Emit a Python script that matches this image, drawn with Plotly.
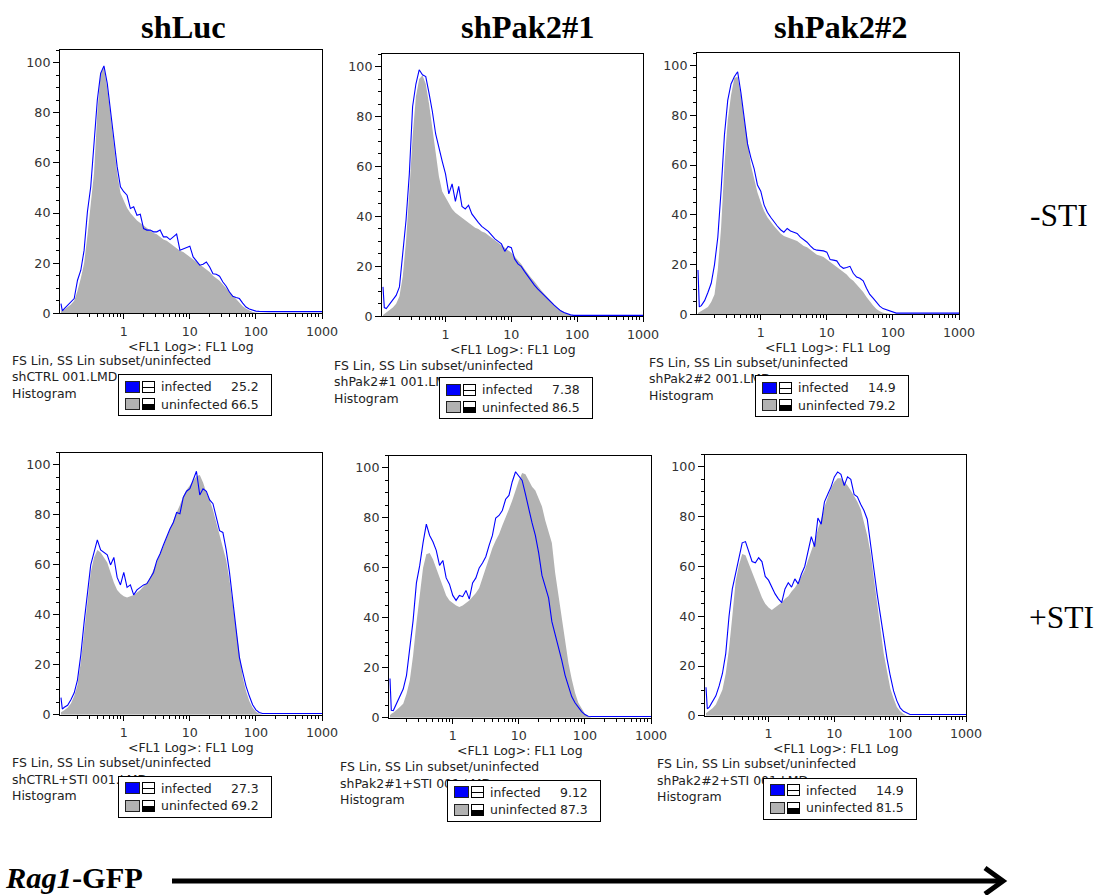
import numpy as np
import plotly.graph_objects as go

# Reference geometry is measured on a 1099x895 picture.  The captured page
# region is slightly larger (about 1115x903), so the figure is sized to it and
# every position is given as a fraction of the picture.
REF_W, REF_H = 1099, 895
FIG_W, FIG_H = 1115, 903
KX, KY = FIG_W / REF_W, FIG_H / REF_H

# ---------------- data ----------------
COLUMN_TITLES = ["shLuc", "shPak2#1", "shPak2#2"]
ROW_LABELS = ["-STI", "+STI"]
FILE_NAMES = ["shCTRL 001.LMD", "shPak2#1 001.LMD", "shPak2#2 001.LMD",
              "shCTRL+STI 001.LMD", "shPak2#1+STI 001.LMD", "shPak2#2+STI 001.LMD"]
GATE_TEXT = "FS Lin, SS Lin subset/uninfected"
INFECTED_PCT = ["25.2", "7.38", "14.9", "27.3", "9.12", "14.9"]
UNINFECTED_PCT = ["66.5", "86.5", "79.2", "69.2", "87.3", "81.5"]
X_TICK_LABELS = ["1", "10", "100", "1000"]

# log10(FL1) bin positions
LOGX = [-0.95, -0.93,
        -0.90, -0.85, -0.80, -0.75, -0.70, -0.65, -0.60, -0.55, -0.50,
        -0.45, -0.40, -0.35, -0.30, -0.25, -0.20, -0.15, -0.10, -0.05,
        0.00, 0.05, 0.10, 0.15, 0.20, 0.25, 0.30, 0.35, 0.40, 0.45,
        0.50, 0.55, 0.60, 0.65, 0.70, 0.75, 0.80, 0.85, 0.90, 0.95,
        1.00, 1.05, 1.10, 1.15, 1.20, 1.25, 1.30, 1.35, 1.40, 1.45,
        1.50, 1.55, 1.60, 1.65, 1.70, 1.75, 1.80, 1.85, 1.90, 1.95,
        2.00, 2.05, 2.10, 2.15, 2.20, 2.50, 3.00]

# shLuc -STI
P1_INF = [3.9, 1.0,
          1.9, 3.2, 4.5, 5.9, 13.2, 17.2, 25.2, 40.5, 50.5, 66.4, 85.1, 95.7, 98.7, 91.7, 81.1, 69.1, 58.5, 50.5,
          48.5, 47.1, 41.8, 42.5, 39.1, 39.5, 33.8, 33.2, 33.2, 32.5, 32.5, 33.2, 30.5, 30.5, 29.4, 30.5, 31.6, 25.2, 25.8, 26.5,
          26.8, 22.5, 20.9, 19.2, 19.6, 20.5, 18.5, 15.8, 15.6, 14.8, 12.5, 10.8, 8.5, 6.8, 6.3, 5.9, 4.1, 2.5, 1.7, 1.2,
          0.9, 0.8, 0.7, 0.7, 0.7, 0.7, 0.7]
P1_UNINF = [0.8, 1.0,
            1.5, 2.5, 3.5, 5.0, 9.0, 14.0, 20.0, 31.0, 44.0, 56.0, 80.0, 96.0, 98.0, 90.0, 79.0, 67.0, 56.0, 48.0,
            45.0, 42.0, 40.0, 38.5, 37.0, 36.0, 35.0, 34.0, 33.0, 32.0, 31.5, 30.5, 29.5, 29.0, 28.0, 27.0, 26.0, 25.0, 24.5, 23.5,
            22.5, 21.5, 20.5, 19.5, 18.5, 17.5, 16.5, 15.0, 14.0, 13.0, 11.5, 10.0, 8.5, 7.0, 5.5, 4.0, 2.8, 1.8, 1.0, 0.5,
            0.2, 0, 0, 0, 0, 0, 0]
# shPak2#1 -STI
P2_INF = [11.8, 3.5,
          3.1, 4.8, 6.4, 8.4, 11.8, 25.0, 38.5, 57.0, 84.0, 93.0, 98.7, 96.7, 96.0, 89.3, 82.0, 73.0, 67.0, 62.0,
          57.0, 49.0, 53.0, 46.0, 52.0, 44.0, 43.0, 44.5, 41.0, 39.0, 37.5, 36.0, 35.0, 34.0, 32.5, 31.0, 30.0, 29.0, 26.0, 28.0,
          27.5, 23.0, 21.0, 20.0, 18.0, 16.0, 14.0, 12.5, 11.0, 9.8, 8.5, 7.0, 5.8, 4.5, 3.2, 2.2, 1.5, 1.0, 0.6, 0.4,
          0.4, 0.4, 0.4, 0.4, 0.4, 0.4, 0.4]
P2_UNINF = [0.5, 1.0,
            1.5, 2.5, 3.5, 5.0, 8.0, 16.0, 30.0, 50.0, 72.0, 88.0, 95.0, 96.5, 93.0, 85.0, 76.0, 66.0, 56.0, 50.0,
            47.5, 45.0, 43.0, 41.5, 40.5, 39.5, 38.5, 37.5, 36.5, 35.5, 35.0, 34.0, 33.5, 32.5, 31.5, 30.5, 29.5, 28.5, 27.5, 26.5,
            25.5, 24.0, 22.5, 21.0, 19.0, 17.0, 15.5, 14.0, 12.0, 10.5, 9.0, 7.5, 6.0, 4.5, 3.3, 2.4, 1.5, 0.9, 0.4, 0.2,
            0, 0, 0, 0, 0, 0, 0]
# shPak2#2 -STI
P3_INF = [17.8, 3.0,
          3.5, 5.5, 8.8, 12.5, 20.0, 31.0, 50.0, 72.0, 86.0, 92.6, 95.5, 97.5, 89.0, 78.0, 68.5, 63.0, 58.5, 52.0,
          49.5, 44.0, 41.0, 39.0, 37.0, 35.5, 34.0, 33.0, 34.5, 33.5, 33.0, 32.5, 31.0, 30.0, 29.0, 27.5, 26.3, 25.8, 25.8, 25.5,
          25.0, 22.0, 21.8, 21.5, 19.5, 18.5, 18.8, 19.3, 16.5, 15.0, 14.5, 13.5, 10.5, 8.0, 6.5, 4.8, 3.3, 2.3, 1.8, 1.4,
          0.9, 0.5, 0.5, 0.5, 0.5, 0.5, 0.5]
P3_UNINF = [0.5, 0.8,
            1.2, 2.0, 3.0, 5.0, 8.0, 18.0, 35.0, 60.0, 78.0, 88.0, 95.0, 95.5, 88.0, 78.0, 70.0, 60.0, 54.0, 49.0,
            45.0, 41.5, 39.0, 37.0, 35.5, 34.0, 32.5, 31.5, 31.0, 30.5, 30.0, 29.5, 28.5, 27.5, 27.0, 26.0, 25.0, 24.0, 23.5, 23.0,
            22.0, 21.0, 20.0, 19.0, 18.0, 17.0, 16.0, 14.5, 13.5, 12.0, 10.5, 9.0, 7.0, 5.2, 3.6, 2.2, 1.2, 0.6, 0.3, 0.1,
            0, 0, 0, 0, 0, 0, 0]
# shLuc +STI
P4_INF = [6.9, 2.3,
          3.0, 3.8, 6.0, 8.8, 14.0, 24.0, 37.0, 48.0, 60.0, 65.0, 70.0, 66.0, 65.0, 64.0, 60.0, 63.0, 55.0, 52.0,
          57.0, 51.0, 52.0, 48.0, 50.0, 51.0, 52.0, 52.5, 55.0, 57.0, 61.7, 64.5, 68.0, 71.5, 74.5, 77.0, 81.0, 80.5, 87.0, 89.5,
          90.5, 94.0, 97.5, 88.0, 90.5, 89.5, 86.0, 84.5, 79.0, 73.7, 73.0, 66.0, 57.0, 46.0, 33.0, 23.0, 17.0, 11.5, 7.5, 4.0,
          2.0, 0.9, 0.5, 0.5, 0.5, 0.5, 0.5]
P4_UNINF = [1.0, 1.2,
            1.8, 2.8, 4.5, 7.5, 12.0, 21.0, 33.0, 45.0, 57.0, 63.0, 66.0, 65.0, 63.0, 61.0, 57.0, 53.0, 50.0, 48.5,
            47.5, 47.0, 47.5, 48.0, 49.0, 50.0, 51.5, 53.0, 55.0, 58.0, 61.0, 64.0, 67.5, 71.0, 74.5, 78.0, 81.0, 84.0, 87.5, 90.0,
            92.0, 94.0, 95.5, 96.0, 93.0, 89.0, 86.0, 82.0, 77.0, 72.0, 68.0, 62.0, 54.0, 44.0, 33.0, 23.0, 15.0, 9.5, 5.5, 2.8,
            1.2, 0.4, 0, 0, 0, 0, 0]
# shPak2#1 +STI
P5_INF = [15.7, 3.0,
          2.9, 5.6, 8.2, 11.5, 17.0, 27.0, 39.0, 54.0, 61.0, 70.0, 77.5, 73.0, 70.5, 67.0, 61.0, 63.0, 56.0, 53.5,
          49.0, 47.0, 49.0, 48.5, 51.0, 47.5, 54.0, 56.0, 60.0, 62.0, 64.5, 69.0, 73.0, 80.0, 81.0, 83.0, 87.5, 89.0, 94.5, 98.5,
          96.5, 95.0, 89.5, 83.0, 78.0, 73.0, 66.0, 57.0, 52.0, 48.0, 38.5, 33.5, 28.5, 23.0, 17.0, 12.5, 8.5, 6.0, 4.3, 2.5,
          1.3, 0.6, 0.5, 0.5, 0.5, 0.5, 0.5]
P5_UNINF = [1.0, 1.6,
            2.0, 3.0, 4.3, 5.6, 9.5, 15.0, 25.0, 38.0, 50.0, 60.0, 65.5, 66.0, 63.5, 60.0, 56.0, 52.5, 49.0, 47.0,
            46.0, 45.0, 44.4, 45.0, 46.0, 47.0, 48.5, 50.0, 52.0, 56.0, 60.0, 64.0, 68.0, 71.0, 73.5, 77.0, 80.0, 83.5, 87.0, 91.5,
            95.0, 98.0, 97.5, 95.0, 92.5, 91.0, 88.0, 84.6, 79.0, 74.0, 70.0, 58.0, 49.0, 38.0, 29.0, 22.0, 15.5, 10.0, 6.0, 3.5,
            1.6, 0.6, 0, 0, 0, 0, 0]
# shPak2#2 +STI
P6_INF = [11.5, 2.8,
          3.5, 5.5, 8.0, 12.0, 17.0, 25.0, 40.0, 51.0, 57.0, 64.0, 69.5, 70.0, 66.0, 62.0, 61.5, 63.5, 62.0, 56.0,
          54.5, 51.5, 49.0, 47.0, 45.5, 51.0, 53.5, 51.7, 55.0, 53.0, 57.0, 60.0, 66.0, 72.0, 68.0, 79.5, 77.0, 86.0, 89.0, 92.0,
          96.0, 98.0, 97.0, 92.5, 96.0, 95.0, 89.0, 88.0, 85.0, 82.5, 79.0, 70.0, 59.0, 49.0, 40.0, 31.0, 23.0, 16.0, 10.0, 6.0,
          3.2, 1.8, 1.0, 0.5, 0.5, 0.5, 0.5]
P6_UNINF = [1.0, 1.5,
            2.0, 3.0, 4.5, 7.5, 10.5, 17.0, 27.0, 40.0, 54.0, 60.5, 65.0, 64.5, 61.0, 57.5, 54.0, 50.5, 47.5, 45.0,
            43.5, 42.5, 43.5, 44.5, 45.5, 47.0, 48.0, 50.0, 51.5, 53.5, 56.0, 58.5, 62.5, 66.5, 70.0, 75.0, 79.0, 84.0, 88.0, 91.5,
            94.0, 95.5, 95.5, 94.0, 92.5, 90.5, 88.5, 86.0, 83.0, 78.0, 72.5, 65.5, 55.0, 44.0, 35.0, 25.0, 18.0, 11.0, 7.0, 3.5,
            1.8, 0.7, 0, 0, 0, 0, 0]

INFECTED = [P1_INF, P2_INF, P3_INF, P4_INF, P5_INF, P6_INF]
UNINFECTED = [P1_UNINF, P2_UNINF, P3_UNINF, P4_UNINF, P5_UNINF, P6_UNINF]

# ---------------- layout geometry (reference pixels) ----------------
PANEL_BOX = [(60, 50, 322, 313), (382, 54, 643, 316), (697, 53, 959, 314),
             (60, 452, 322, 714), (389, 455, 651, 717), (705, 454, 966, 715)]
TEXT_POS = [(10, 360), (332, 365), (647, 362), (10, 762), (338, 766), (655, 763)]
LEG_BOX = [(118, 374), (439, 377), (755, 375), (118, 775), (447, 779), (763, 777)]
TITLE_X = [183, 527, 840]

BLUE = "rgb(0,0,255)"
GREY = "rgb(178,178,178)"
SANS = "DejaVu Sans"
SERIF = "Liberation Serif"
FS = 12.3 * KX


def px(x):
    return x / REF_W


def py(y):
    return 1 - y / REF_H


def sx(v):
    return v * KX


def sy(v):
    return v * KY


fig = go.Figure()
layout = dict(width=FIG_W, height=FIG_H, margin=dict(l=0, r=0, t=0, b=0), autosize=False,
              paper_bgcolor="white", plot_bgcolor="white", showlegend=False)

minor_x = [float(np.log10(k)) + d for d in (-1, 0, 1, 2) for k in range(2, 10)]

annotations = []
shapes = []

for i in range(6):
    sfx = "" if i == 0 else str(i + 1)
    xa, ya = "x" + sfx, "y" + sfx
    l, t, r, b = PANEL_BOX[i]
    fig.add_trace(go.Scatter(x=LOGX, y=UNINFECTED[i], mode="lines", fill="tozeroy",
                             fillcolor=GREY, line=dict(width=0, color=GREY),
                             xaxis=xa, yaxis=ya, hoverinfo="skip"))
    fig.add_trace(go.Scatter(x=LOGX, y=INFECTED[i], mode="lines",
                             line=dict(width=1.1, color=BLUE),
                             xaxis=xa, yaxis=ya, hoverinfo="skip"))
    layout["xaxis" + sfx] = dict(
        domain=[px(l), px(r)], anchor=ya, range=[-0.965, 3.0],
        showline=True, mirror=True, linecolor="black", linewidth=1,
        showgrid=False, zeroline=False,
        tickmode="array", tickvals=[0, 1, 2, 3], ticktext=X_TICK_LABELS,
        ticks="outside", ticklen=5, tickcolor="black", tickwidth=1,
        ticklabelstandoff=1,
        tickfont=dict(family=SANS, size=12.5 * KX, color="#333"),
        minor=dict(tickmode="array", tickvals=minor_x, ticks="outside",
                   ticklen=3, tickcolor="black", showgrid=False),
        fixedrange=True)
    layout["yaxis" + sfx] = dict(
        domain=[py(b), py(t)], anchor=xa, range=[0, 105],
        showline=True, mirror=True, linecolor="black", linewidth=1,
        showgrid=False, zeroline=False,
        tickmode="linear", tick0=0, dtick=20,
        ticks="outside", ticklen=6, tickcolor="black", tickwidth=1,
        tickfont=dict(family=SANS, size=12.5 * KX, color="#333"),
        minor=dict(dtick=5, ticks="outside", ticklen=3, tickcolor="black", showgrid=False),
        fixedrange=True)

    # axis title
    annotations.append(dict(x=px((l + r) / 2), y=py(b + 33), xref="paper", yref="paper",
                            text="<FL1 Log>: FL1 Log", showarrow=False,
                            xanchor="center", yanchor="middle",
                            font=dict(family=SANS, size=FS, color="#222")))
    # file info text
    tx, ty = TEXT_POS[i]
    for j, line in enumerate([GATE_TEXT, FILE_NAMES[i], "Histogram"]):
        annotations.append(dict(x=px(tx), y=py(ty + 16.3 * j), xref="paper", yref="paper",
                                text=line, showarrow=False, xanchor="left", yanchor="middle",
                                font=dict(family=SANS, size=FS, color="#222")))
    # legend box (annotation so that it covers the text below it)
    bx, by = LEG_BOX[i]
    annotations.append(dict(x=px(bx), y=py(by), xref="paper", yref="paper", text=" ",
                            showarrow=False, xanchor="left", yanchor="top",
                            width=sx(150), height=sy(40), bgcolor="white", bordercolor="black",
                            borderwidth=1, borderpad=0, font=dict(size=1)))
    rows = [(12.2, BLUE, "white", "infected", INFECTED_PCT[i]),
            (29.7, GREY, "black", "uninfected", UNINFECTED_PCT[i])]
    for (cy, col, lower, lab, val) in rows:
        # colour square
        annotations.append(dict(x=px(bx + 7), y=py(by + cy - 6), xref="paper", yref="paper",
                                text=" ", showarrow=False, xanchor="left", yanchor="top",
                                width=sx(13), height=sy(10), bgcolor=col, bordercolor="#222",
                                borderwidth=1, borderpad=0, font=dict(size=1)))
        # split icon: upper half
        annotations.append(dict(x=px(bx + 24), y=py(by + cy - 6), xref="paper", yref="paper",
                                text=" ", showarrow=False, xanchor="left", yanchor="top",
                                width=sx(11), height=5, bgcolor="white", bordercolor="black",
                                borderwidth=1, borderpad=0, font=dict(size=1)))
        # split icon: lower half
        annotations.append(dict(x=px(bx + 24), y=py(by + cy), xref="paper", yref="paper",
                                text=" ", showarrow=False, xanchor="left", yanchor="top",
                                width=sx(11), height=4, bgcolor=lower, bordercolor="black",
                                borderwidth=1, borderpad=0, font=dict(size=1)))
        annotations.append(dict(x=px(bx + 41), y=py(by + cy), xref="paper", yref="paper",
                                text=lab, showarrow=False, xanchor="left", yanchor="middle",
                                font=dict(family=SANS, size=FS, color="#222")))
        annotations.append(dict(x=px(bx + 143), y=py(by + cy), xref="paper", yref="paper",
                                text=val, showarrow=False, xanchor="right", yanchor="middle",
                                font=dict(family=SANS, size=FS, color="#222")))

# column titles
for k, ttl in enumerate(COLUMN_TITLES):
    annotations.append(dict(x=px(TITLE_X[k]), y=py(27), xref="paper", yref="paper",
                            text="<b>" + ttl + "</b>", showarrow=False,
                            xanchor="center", yanchor="middle",
                            font=dict(family=SERIF, size=32 * KX, color="black")))
# row labels
annotations.append(dict(x=px(1059), y=py(215), xref="paper", yref="paper", text=ROW_LABELS[0],
                        showarrow=False, xanchor="center", yanchor="middle",
                        font=dict(family=SERIF, size=31 * KX, color="black")))
annotations.append(dict(x=px(1061), y=py(617), xref="paper", yref="paper", text=ROW_LABELS[1],
                        showarrow=False, xanchor="center", yanchor="middle",
                        font=dict(family=SERIF, size=31 * KX, color="black")))
# bottom label + arrow
annotations.append(dict(x=px(4), y=py(877), xref="paper", yref="paper",
                        text="<b><i>Rag1</i>-GFP</b>", showarrow=False,
                        xanchor="left", yanchor="middle", borderpad=0,
                        font=dict(family=SERIF, size=30 * KX, color="black")))
shapes.append(dict(type="line", xref="paper", yref="paper", x0=px(172), x1=px(1000),
                   y0=py(880), y1=py(880), line=dict(color="black", width=5)))
shapes.append(dict(type="path", xref="paper", yref="paper",
                   path="M %f,%f L %f,%f L %f,%f" % (px(985), py(867), px(1003), py(880), px(985), py(893)),
                   line=dict(color="black", width=5)))

layout["annotations"] = annotations
layout["shapes"] = shapes
fig.update_layout(**layout)

fig.write_html("out.html", config={"displayModeBar": False, "staticPlot": True},
               post_script="document.body.style.margin='0';document.body.style.overflow='hidden';")
